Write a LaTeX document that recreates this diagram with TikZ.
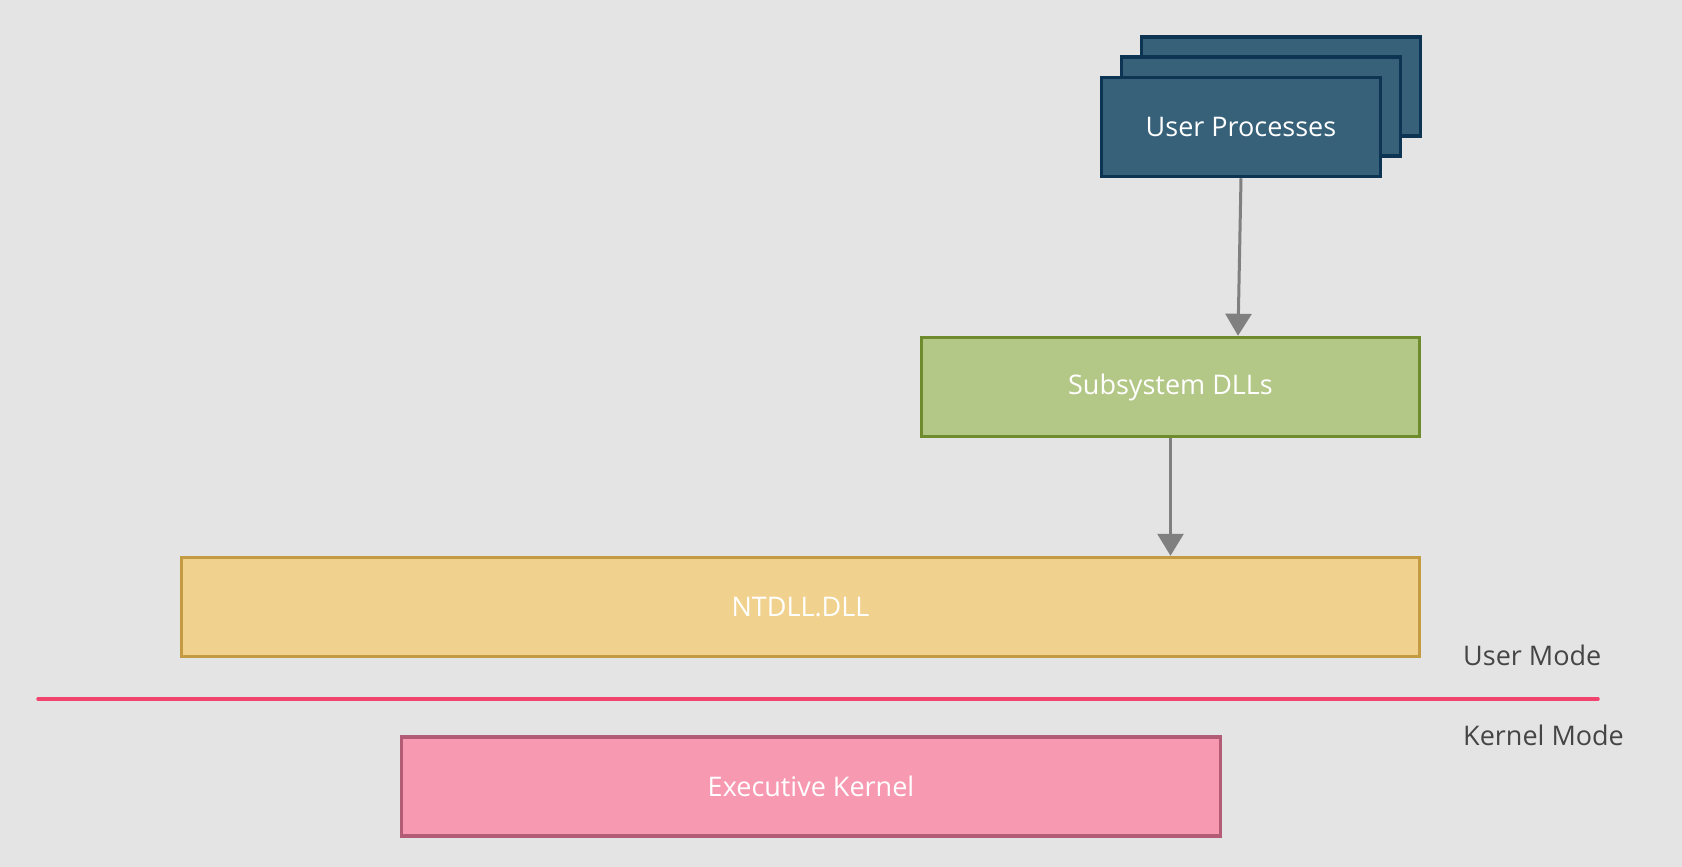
\documentclass[tikz,border=0pt]{standalone}
\usepackage{fontspec}
\setmainfont{Open Sans}
\usetikzlibrary{arrows.meta}
\definecolor{bg}{HTML}{E4E4E4}
\definecolor{upfill}{HTML}{376079}
\definecolor{updraw}{HTML}{0D3452}
\definecolor{subfill}{HTML}{B3C786}
\definecolor{subdraw}{HTML}{6E8C2E}
\definecolor{ntfill}{HTML}{F0D28E}
\definecolor{ntdraw}{HTML}{C49B41}
\definecolor{exfill}{HTML}{F799B1}
\definecolor{exdraw}{HTML}{B35C75}
\definecolor{arrowgray}{HTML}{808080}
\definecolor{modeline}{HTML}{F2426E}
\definecolor{labelgray}{HTML}{454545}
\tikzset{
  box/.style={rectangle, line width=3.5pt, text=white, font=\fontsize{27}{31}\selectfont, inner sep=0pt},
  upbox/.style={box, fill=upfill, draw=updraw, minimum width=279pt, minimum height=99pt},
  flow/.style={draw=arrowgray, line width=3pt, -{Triangle[width=26pt,length=22pt]}},
  modelabel/.style={text=labelgray, font=\fontsize{27}{31}\selectfont, anchor=west, inner sep=0pt},
}
\begin{document}
\begin{tikzpicture}[x=1pt,y=-1pt]
\fill[bg] (0,0) rectangle (1682,867);
\useasboundingbox (0,0) rectangle (1682,867);
\node[upbox] (up3) at (1281,86.5) {};
\node[upbox] (up2) at (1261,106.5) {};
\node[upbox] (up) at (1241,127) {User Processes};
\node[box, fill=subfill, draw=subdraw, minimum width=498pt, minimum height=99pt] (sub) at (1170.5,387) {Subsystem DLLs};
\node[box, fill=ntfill, draw=ntdraw, minimum width=1238pt, minimum height=99pt] (nt) at (800.5,607) {NTDLL.DLL};
\node[box, fill=exfill, draw=exdraw, minimum width=819pt, minimum height=99pt] (ex) at (811,786.5) {Executive Kernel};
\draw[flow] (up.south) -- ([xshift=-3pt]up.south |- sub.north);
\draw[flow] (sub.south) -- (sub.south |- nt.north);
\coordinate (ml) at (38,699);
\coordinate (mr) at (1598,699);
\draw[modeline, line width=3.5pt, line cap=round] (ml) -- (mr);
\node[modelabel] (um) at (1463,655) {User Mode};
\node[modelabel] (km) at (1463,735) {Kernel Mode};
\end{tikzpicture}
\end{document}
